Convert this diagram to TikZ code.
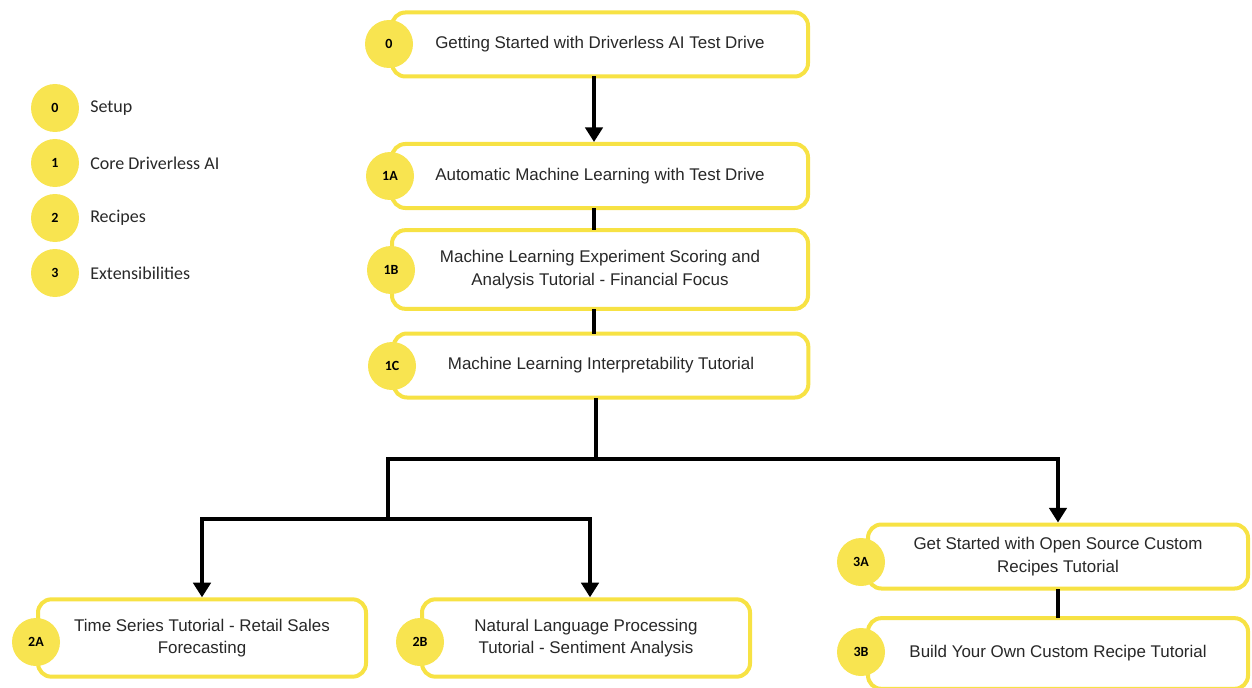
\documentclass[tikz,border=0pt]{standalone}
\usepackage{fontspec}
\setmainfont{Liberation Sans}
\newfontfamily\legfont{Carlito}
\usetikzlibrary{arrows.meta}
\definecolor{ylw}{RGB}{247,226,68}
\definecolor{cyl}{RGB}{248,228,80}
\definecolor{txt}{RGB}{40,40,40}
\begin{document}
\begin{tikzpicture}[x=0.75pt,y=-0.75pt,
  box/.style={draw=ylw, line width=3pt, fill=white, rounded corners=10pt, inner sep=0pt,
    font=\fontsize{12.7}{17}\selectfont, text=txt, align=center},
  circ/.style={circle, fill=cyl, minimum size=36pt, inner sep=0pt,
    font=\legfont\bfseries\fontsize{10.5}{10.5}\selectfont, text=black},
  leg/.style={anchor=west, inner sep=0pt, font=\legfont\fontsize{13.5}{15}\selectfont, text=txt},
  conn/.style={line width=3pt, draw=black, line cap=rect},
  arr/.style={conn, -{Triangle[width=13pt,length=11pt]}}]
\useasboundingbox (0,0) rectangle (1252,688);

% legend
\node[circ] (l0) at (55,108) {0};
\node[circ] (l1) at (55,163) {1};
\node[circ] (l2) at (55,218) {2};
\node[circ] (l3) at (55,273) {3};
\node[leg] (t0) at (90,108) {Setup};
\node[leg] (t1) at (90,163) {Core Driverless AI};
\node[leg] (t2) at (90,218) {Recipes};
\node[leg] (t3) at (90,273) {Extensibilities};

% boxes
\node[box, minimum width=312pt, minimum height=48pt] (b0) at (600,44.5) {Getting Started with Driverless AI Test Drive};
\node[box, minimum width=312pt, minimum height=48pt] (b1a) at (600,176) {Automatic Machine Learning with Test Drive};
\node[box, minimum width=312pt, minimum height=59pt] (b1b) at (600,269.5) {Machine Learning Experiment Scoring and\\Analysis Tutorial - Financial Focus};
\node[box, minimum width=311pt, minimum height=48pt] (b1c) at (601,365.5) {Machine Learning Interpretability Tutorial};
\node[box, minimum width=246pt, minimum height=58pt] (b2a) at (202,638) {Time Series Tutorial - Retail Sales\\Forecasting};
\node[box, minimum width=246pt, minimum height=58pt] (b2b) at (586,638) {Natural Language Processing\\Tutorial - Sentiment Analysis};
\node[box, minimum width=285pt, minimum height=48pt] (b3a) at (1058,556.5) {Get Started with Open Source Custom\\Recipes Tutorial};
\node[box, minimum width=285pt, minimum height=53pt] (b3b) at (1058,653.5) {Build Your Own Custom Recipe Tutorial};

% connectors
\coordinate (sp) at (594,0);
\coordinate (j1) at (596,459);
\coordinate (jl) at (388,459);
\coordinate (jr) at (1058,459);
\coordinate (jl2) at (388,519);
\coordinate (ja) at (202,519);
\coordinate (jb) at (590,519);
\draw[arr] (sp |- b0.south) -- (sp |- b1a.north);
\draw[conn] (sp |- b1a.south) -- (sp |- b1b.north);
\draw[conn] (sp |- b1b.south) -- (sp |- b1c.north);
\draw[conn] (b1c.south -| j1) -- (j1);
\draw[arr] (jl2) -- (jl) -- (jr) -- (jr |- b3a.north);
\draw[arr] (jb) -- (ja) -- (ja |- b2a.north);
\draw[arr] (jb) -- (jb |- b2b.north);
\draw[conn] (jr |- b3a.south) -- (jr |- b3b.north);

% number circles
\node[circ] (c0) at (389,44) {0};
\node[circ] (c1a) at (390,176) {1A};
\node[circ] (c1b) at (391,270) {1B};
\node[circ] (c1c) at (392,366) {1C};
\node[circ] (c2a) at (36,642) {2A};
\node[circ] (c2b) at (420,642) {2B};
\node[circ] (c3a) at (861,562) {3A};
\node[circ] (c3b) at (861,652) {3B};
\end{tikzpicture}
\end{document}
